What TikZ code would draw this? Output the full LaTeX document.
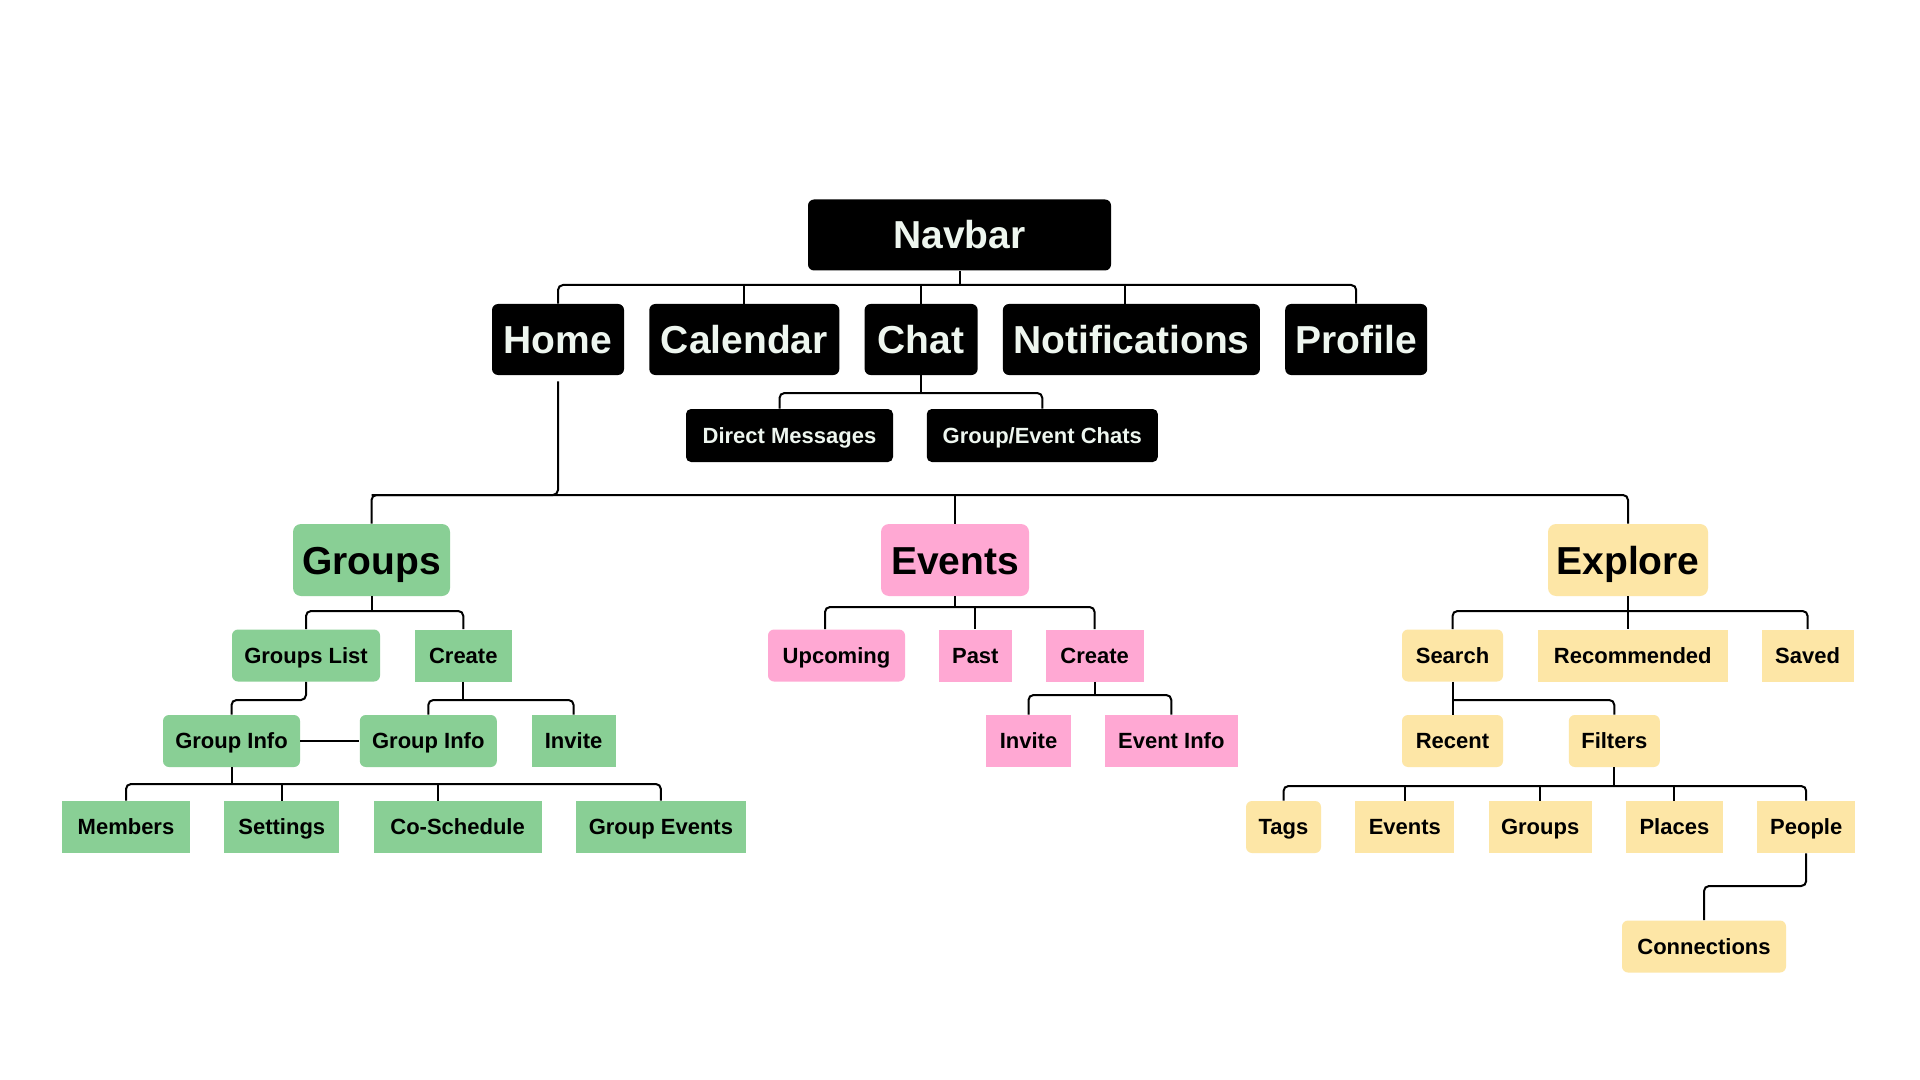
\documentclass[tikz,border=0pt]{standalone}
\usepackage{fontspec}
\setmainfont{Liberation Sans}
\usepackage{tikz}
\usetikzlibrary{positioning,calc}
\definecolor{navInk}{HTML}{000000}
\definecolor{navText}{HTML}{EEF6EF}
\definecolor{grpGreen}{HTML}{89CF95}
\definecolor{evtPink}{HTML}{FFA8D3}
\definecolor{expYellow}{HTML}{FDE6A6}
\newcommand{\bigtxt}{\fontsize{19.5}{23}\selectfont\bfseries}
\newcommand{\smalltxt}{\fontsize{11}{13}\selectfont\bfseries}
\tikzset{
    navbox/.style={fill=navInk, text=navText, rounded corners=3pt, font=\bigtxt, inner sep=0pt, text height=14pt, text depth=0pt, minimum height=35.5pt},
    subnav/.style={fill=navInk, text=navText, rounded corners=2.5pt, font=\smalltxt, inner sep=0pt, text height=7.9pt, text depth=0pt, minimum height=26.5pt},
    head/.style={rounded corners=4pt, font=\bigtxt, text=black, inner sep=0pt, text height=14pt, text depth=0pt, minimum height=36pt},
    leaf/.style={rounded corners=3pt, font=\smalltxt, text=black, inner sep=0pt, text height=7.9pt, text depth=0pt, minimum height=26pt},
    flat/.style={sharp corners},
    link/.style={draw=black, line width=1pt, rounded corners=2.5pt}
}

\begin{document}
\begin{tikzpicture}[x=0.5pt, y=-0.5pt, node distance=16.75pt]
\fill[white] (0,0) rectangle (1920,1080);
\node[navbox, minimum width=151.5pt] (navbar) at (959.5,235) {Navbar};
\node[navbox, minimum width=66pt] (home) at (558,339.5) {Home};
\node[navbox, minimum width=95pt, right=12.25pt of home] (calendar) {Calendar};
\node[navbox, minimum width=56.5pt, right=12.25pt of calendar] (chat) {Chat};
\node[navbox, minimum width=128.5pt, right=12.25pt of chat] (notif) {Notifications};
\node[navbox, minimum width=71pt, right=12.25pt of notif] (profile) {Profile};
\node[subnav, minimum width=103.5pt] (dm) at (789.5,435.5) {Direct Messages};
\node[subnav, minimum width=115.5pt, right=16.5pt of dm] (gec) {Group/Event Chats};

\node[head, fill=grpGreen, minimum width=78.5pt] (groups) at (371.5,560) {Groups};
\node[head, fill=evtPink, minimum width=74pt] (events) at (955,560) {Events};
\node[head, fill=expYellow, minimum width=80pt] (explore) at (1628,560) {Explore};

\node[leaf, fill=grpGreen, minimum width=74pt] (groupslist) at (306,655.5) {Groups List};
\node[leaf, flat, fill=grpGreen, minimum width=48.5pt, right=17pt of groupslist] (gcreate) {Create};
\node[leaf, fill=grpGreen, minimum width=68.5pt] (ginfo) at (231.5,741) {Group Info};
\node[leaf, fill=grpGreen, minimum width=68.5pt, right=29.5pt of ginfo] (ginfo2) {Group Info};
\node[leaf, flat, fill=grpGreen, minimum width=42pt, right=17pt of ginfo2] (ginvite) {Invite};
\node[leaf, flat, fill=grpGreen, minimum width=64pt] (members) at (126,827) {Members};
\node[leaf, flat, fill=grpGreen, minimum width=57.5pt, right=of members] (settings) {Settings};
\node[leaf, flat, fill=grpGreen, minimum width=84pt, right=of settings] (cosched) {Co-Schedule};
\node[leaf, flat, fill=grpGreen, minimum width=85pt, right=of cosched] (gevents) {Group Events};

\node[leaf, fill=evtPink, minimum width=68.5pt] (upcoming) at (836.5,655.5) {Upcoming};
\node[leaf, flat, fill=evtPink, minimum width=36.5pt, right=16.5pt of upcoming] (past) {Past};
\node[leaf, flat, fill=evtPink, minimum width=49pt, right=16.5pt of past] (ecreate) {Create};
\node[leaf, flat, fill=evtPink, minimum width=42.5pt] (einvite) at (1028.5,741) {Invite};
\node[leaf, flat, fill=evtPink, minimum width=66.5pt, right=16.5pt of einvite] (einfo) {Event Info};

\node[leaf, fill=expYellow, minimum width=50.5pt] (search) at (1452.5,655.5) {Search};
\node[leaf, flat, fill=expYellow, minimum width=95pt, right=17pt of search] (recommended) {Recommended};
\node[leaf, flat, fill=expYellow, minimum width=46pt, right=16.5pt of recommended] (saved) {Saved};
\node[leaf, fill=expYellow, minimum width=50.5pt] (recent) at (1452.5,741) {Recent};
\node[leaf, fill=expYellow, minimum width=45.5pt, right=32.5pt of recent] (filters) {Filters};
\node[leaf, fill=expYellow, minimum width=37.5pt] (tags) at (1283.5,827) {Tags};
\node[leaf, flat, fill=expYellow, minimum width=49.5pt, right=of tags] (xevents) {Events};
\node[leaf, flat, fill=expYellow, minimum width=51.5pt, right=of xevents] (xgroups) {Groups};
\node[leaf, flat, fill=expYellow, minimum width=48.5pt, right=of xgroups] (places) {Places};
\node[leaf, flat, fill=expYellow, minimum width=49pt, right=of places] (people) {People};
\node[leaf, fill=expYellow, minimum width=82pt] (connections) at (1704,946.5) {Connections};

\draw[link] (home.north) |- (profile.north |- 0,285) -- (profile.north); \draw[link] (navbar.south) -- (navbar.south |- 0,285);
\draw[link] (calendar.north) -- (calendar.north |- 0,285); \draw[link] (chat.north) -- (chat.north |- 0,285); \draw[link] ([xshift=-3pt]notif.north) -- ([xshift=-3pt]notif.north |- 0,285);
\draw[link] ([xshift=-5pt]dm.north) |- (gec.north |- 0,393) -- (gec.north); \draw[link] (chat.south) -- (chat.south |- 0,393);
\draw[link] (groups.north) |- (explore.north |- 0,495) -- (explore.north); \draw[link] ([yshift=-3pt]home.south) |- (groups.north |- 0,495); \draw[link] (events.north) -- (events.north |- 0,495);

\draw[link] (groupslist.north) |- (gcreate.north |- 0,611) -- (gcreate.north); \draw[link] (groups.south) -- (groups.south |- 0,611);
\draw[link] (groupslist.south) -- (groupslist.south |- 0,700) -| (ginfo.north);
\draw[link] (ginfo2.north) |- (ginvite.north |- 0,700) -- (ginvite.north); \draw[link] (gcreate.south) -- (gcreate.south |- 0,700);
\draw[link] (ginfo) -- (ginfo2);
\draw[link] (members.north) |- (gevents.north |- 0,784) -- (gevents.north); \draw[link] (ginfo.south) -- (ginfo.south |- 0,784);
\draw[link] (settings.north) -- (settings.north |- 0,784); \draw[link] ([xshift=-10pt]cosched.north) -- ([xshift=-10pt]cosched.north |- 0,784);

\draw[link] ([xshift=-5.75pt]upcoming.north) |- (ecreate.north |- 0,607) -- (ecreate.north); \draw[link] (events.south) -- (events.south |- 0,607); \draw[link] (past.north) -- (past.north |- 0,607);
\draw[link] (einvite.north) |- (einfo.north |- 0,695) -- (einfo.north); \draw[link] (ecreate.south) -- (ecreate.south |- 0,695);

\draw[link] (search.north) |- (saved.north |- 0,611) -- (saved.north); \draw[link] (explore.south) -- (explore.south |- recommended.north);
\draw[link] (search) -- (recent); \draw[link] (filters.north) |- (search.south |- 0,700);
\draw[link] (tags.north) |- (people.north |- 0,786) -- (people.north); \draw[link] (filters.south) -- (filters.south |- 0,786);
\draw[link] (xevents.north) -- (xevents.north |- 0,786); \draw[link] (xgroups.north) -- (xgroups.north |- 0,786); \draw[link] (places.north) -- (places.north |- 0,786);
\draw[link] (people.south) -- (people.south |- 0,886) -| (connections.north);
\end{tikzpicture}
\end{document}
